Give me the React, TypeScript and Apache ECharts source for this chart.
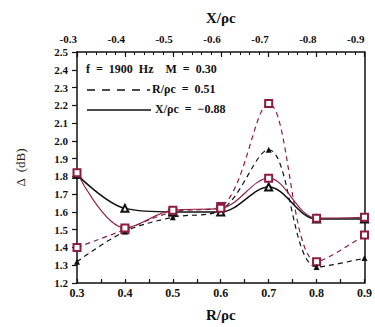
import React, { useEffect, useRef } from "react";
import * as echarts from "echarts";

const rValues = [0.3, 0.4, 0.5, 0.6, 0.7, 0.8, 0.9];
const solidTriangle = [1.81, 1.62, 1.6, 1.6, 1.74, 1.56, 1.56];
const solidSquare = [1.82, 1.51, 1.61, 1.62, 1.79, 1.565, 1.57];
const dashedTriangle = [1.32, 1.49, 1.57, 1.61, 1.95, 1.29, 1.34];
const dashedSquare = [1.4, 1.5, 1.6, 1.63, 2.21, 1.32, 1.47];

const legendLine1 = "f  =  1900  Hz    M  =  0.30";
const legendLine2 = "R/ρc  =  0.51";
const legendLine3 = "X/ρc  =  −0.88";

const MAROON = "#8c1d40";
const FONT = "'Liberation Serif', 'DejaVu Serif', serif";

const pair = (ys: number[]) => rValues.map((x, i) => [x, ys[i]]);

export default function App() {
  const ref = useRef<HTMLDivElement>(null);
  useEffect(() => {
    document.body.style.margin = "0";
    const chart = echarts.init(ref.current!, null, { renderer: "svg" });
    const labelStyle = { fontFamily: FONT, fontWeight: "bold" as const, fontSize: 12, color: "#111" };
    chart.setOption({
      animation: false,
      backgroundColor: "#fff",
      grid: { left: 77, right: 9, top: 52, bottom: 36, containLabel: false },
      xAxis: [
        {
          type: "value",
          position: "bottom",
          min: 0.3,
          max: 0.9,
          interval: 0.1,
          name: "R/ρc",
          nameLocation: "middle",
          nameGap: 24,
          nameTextStyle: { fontFamily: FONT, fontWeight: "bold", fontSize: 15, color: "#111" },
          axisLine: { lineStyle: { color: "#111", width: 1.5 } },
          axisTick: { inside: true, length: 4, lineStyle: { color: "#111", width: 1.2 } },
          minorTick: { show: true, splitNumber: 2, length: 4, lineStyle: { color: "#111", width: 1.2 } },
          axisLabel: { ...labelStyle, margin: 4, formatter: (v: number) => v.toFixed(1) },
          splitLine: { show: false },
        },
        {
          type: "value",
          position: "top",
          min: -0.9,
          max: -0.3,
          interval: 0.1,
          inverse: true,
          name: "X/ρc",
          nameLocation: "middle",
          nameGap: 27,
          nameTextStyle: { fontFamily: FONT, fontWeight: "bold", fontSize: 15, color: "#111" },
          axisLine: { lineStyle: { color: "#111", width: 1.5 } },
          axisTick: { inside: true, length: 5, lineStyle: { color: "#111", width: 1.2 } },
          minorTick: { show: true, splitNumber: 5, length: 3, lineStyle: { color: "#111", width: 1 } },
          axisLabel: { ...labelStyle, fontSize: 11, margin: 8, align: "right", formatter: (v: number) => v.toFixed(1) },
          splitLine: { show: false },
        },
      ],
      yAxis: [
        {
          type: "value",
          min: 1.2,
          max: 2.5,
          interval: 0.1,
          name: "Δ  (dB)",
          nameLocation: "middle",
          nameGap: 50,
          nameRotate: 90,
          nameTextStyle: { fontFamily: FONT, fontSize: 13, color: "#222222" },
          axisLine: { show: true, lineStyle: { color: "#111", width: 1.5 } },
          axisTick: { show: true, length: 5, lineStyle: { color: "#111", width: 1.2 } },
          axisLabel: { ...labelStyle, fontSize: 11, margin: 9, formatter: (v: number) => v.toFixed(1) },
          splitLine: { show: false },
        },
        {
          type: "value",
          position: "right",
          min: 1.2,
          max: 2.5,
          interval: 0.1,
          axisLine: { show: true, lineStyle: { color: "#111", width: 1.5 } },
          axisTick: { show: false },
          axisLabel: { show: false },
          splitLine: { show: false },
        },
      ],
      series: [
        {
          type: "line",
          data: pair(dashedSquare),
          smooth: 0.35,
          symbol: "emptyRect",
          symbolSize: 7,
          lineStyle: { color: MAROON, width: 1.2, type: [5, 4] },
          itemStyle: { color: MAROON, borderWidth: 1.3 },
          z: 2,
        },
        {
          type: "line",
          data: pair(dashedTriangle),
          smooth: 0.35,
          symbol: "triangle",
          symbolSize: 6,
          lineStyle: { color: "#111", width: 1.2, type: [5, 4] },
          itemStyle: { color: "#111" },
          z: 2,
        },
        {
          type: "line",
          data: pair(solidTriangle),
          smooth: 0.35,
          symbol: "emptyTriangle",
          symbolSize: 7,
          lineStyle: { color: "#111", width: 1.5 },
          itemStyle: { color: "#111", borderWidth: 1.2 },
          z: 3,
        },
        {
          type: "line",
          data: pair(solidSquare),
          smooth: 0.35,
          symbol: "emptyRect",
          symbolSize: 7,
          lineStyle: { color: MAROON, width: 1.1 },
          itemStyle: { color: MAROON, borderWidth: 1.3 },
          z: 4,
        },
      ],
      graphic: [
        {
          type: "text",
          left: 86,
          top: 63,
          style: { text: legendLine1, font: `bold 12px ${FONT}`, fill: "#111" },
        },
        {
          type: "line",
          shape: { x1: 87, y1: 90, x2: 150, y2: 90 },
          style: { stroke: "#111", lineWidth: 1.5, lineDash: [8, 7] },
        },
        {
          type: "text",
          left: 152,
          top: 83,
          style: { text: legendLine2, font: `bold 12px ${FONT}`, fill: "#111" },
        },
        {
          type: "line",
          shape: { x1: 87, y1: 110, x2: 151, y2: 110 },
          style: { stroke: "#111", lineWidth: 1.5 },
        },
        {
          type: "text",
          left: 155,
          top: 103,
          style: { text: legendLine3, font: `bold 12px ${FONT}`, fill: "#111" },
        },
      ],
    });
    return () => chart.dispose();
  }, []);
  return <div ref={ref} style={{ width: 375, height: 327 }} />;
}
